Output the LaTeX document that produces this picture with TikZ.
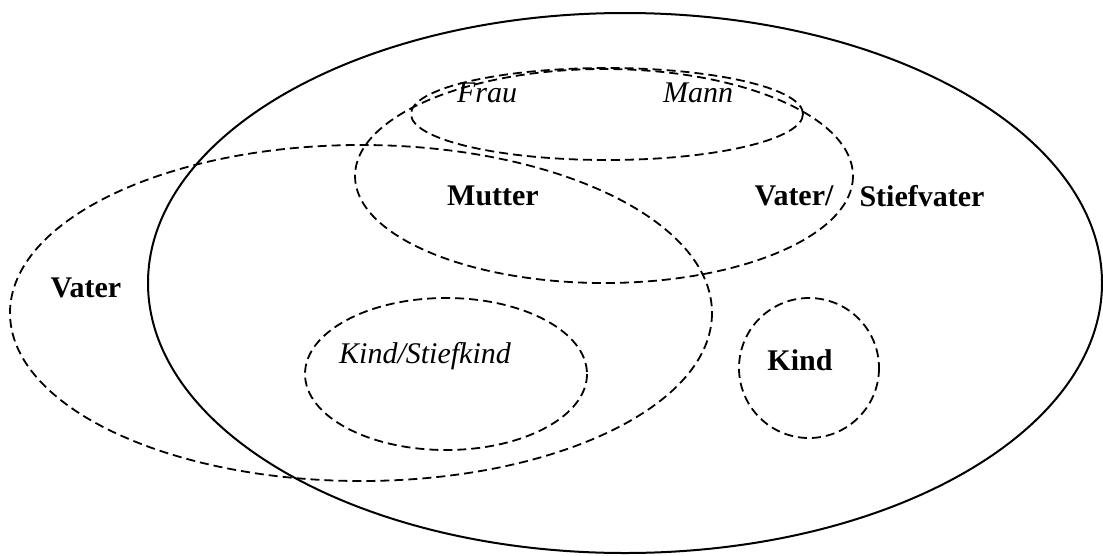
\documentclass[tikz,border=0pt]{standalone}
\usepackage{fontspec}
\setmainfont{Liberation Serif}

\tikzset{
  dashring/.style={draw, line width=1.8pt, dash pattern=on 9pt off 5pt},
  solidring/.style={draw, line width=2pt},
  boldlbl/.style={font=\fontsize{30}{36}\selectfont\bfseries},
  itlbl/.style={font=\fontsize{30}{36}\selectfont\itshape}
}

\begin{document}
\begin{tikzpicture}[x=1pt, y=-1pt]
  \useasboundingbox (0,0) rectangle (1103,555);
  \begin{scope}
      \draw[solidring] (625,283) ellipse (477 and 270); % Familie
      \draw[dashring] (361,313) ellipse (351 and 168); % Vater
      \draw[dashring] (604,176) ellipse (249 and 107); % Eltern
      \draw[dashring] (607,114) ellipse (196 and 46); % Paar
      \draw[dashring] (446,374) ellipse (141 and 76); % Kind/Stiefkind
      \draw[dashring] (809,368) circle (70); % Kind
  \end{scope}
  \node[itlbl] (Frau) at(487,93){Frau};
  \node[itlbl] (Mann) at(698,93){Mann};
  \node[boldlbl] (Mutter) at(493,196){Mutter};
  \node[boldlbl] (VaterS) at(794,196){Vater/};
  \node[boldlbl] (Stiefvater) at(922,196){Stiefvater};
  \node[boldlbl] (Vater) at(86,288){Vater};
  \node[itlbl] (KindS) at(425,356){Kind/Stiefkind};
  \node[boldlbl] (Kind) at(800,360){Kind};
\end{tikzpicture}
\end{document}
